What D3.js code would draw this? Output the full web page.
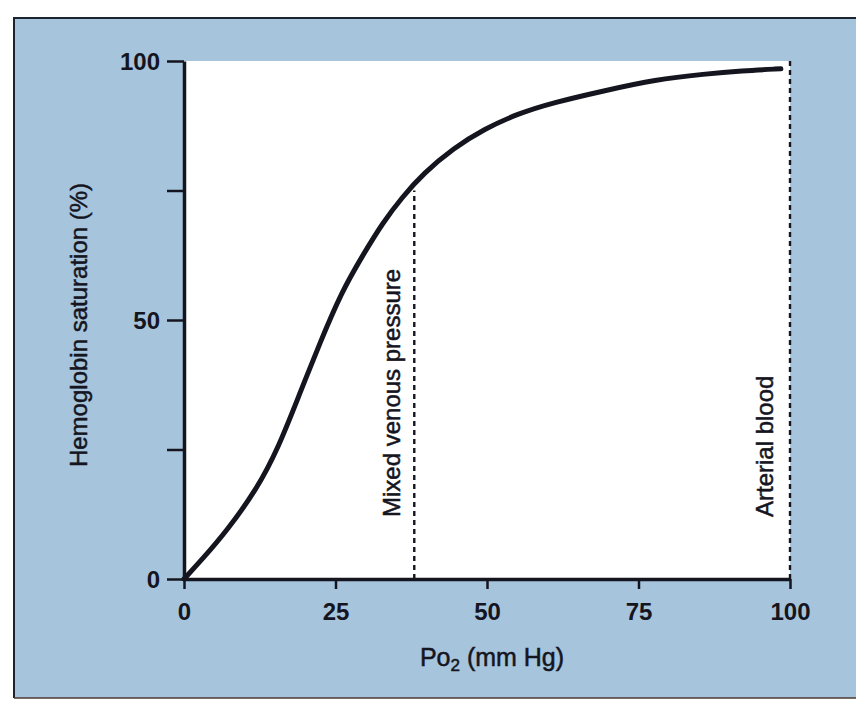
<!DOCTYPE html>
<html>
<head>
<meta charset="utf-8">
<script src="https://cdn.jsdelivr.net/npm/d3@7"></script>
<style>
  html, body { margin: 0; padding: 0; background: #ffffff; }
  svg { display: block; }
  text { font-family: "Liberation Sans", Arial, Helvetica, sans-serif; fill: #15151f; }
</style>
</head>
<body>
<svg id="chart" width="856" height="702"></svg>
<script>
// ---- data ----
const po2 = [0, 3, 7, 12, 15.6, 19, 22.5, 26, 29.4, 32.8, 36, 39.5, 44.5, 49.6, 55, 61, 69.5, 77.7, 86, 92, 98.5];
const saturation = [0, 3.8, 9.2, 17.3, 25.4, 35.5, 45.8, 55.4, 62.3, 68.8, 73.7, 78.3, 83.2, 86.9, 89.8, 92.0, 94.3, 96.4, 97.5, 98.1, 98.5];

const xTicks = [0, 25, 50, 75, 100];
const xTickLabels = ["0", "25", "50", "75", "100"];
const yTicks = [0, 25, 50, 75, 100];
const yTickLabels = ["0", "", "50", "", "100"];

const markerNames = ["Mixed venous pressure", "Arterial blood"];
const markerPo2 = [38, 100];
const markerTop = [75, 100];

const xTitle = "Po";
const xTitleSub = "2";
const xTitleRest = " (mm Hg)";
const yTitle = "Hemoglobin saturation (%)";

// ---- layout ----
const svg = d3.select("#chart");
const ink = "#15151f";

// blue panel
svg.append("rect")
  .attr("x", 14).attr("y", 18)
  .attr("width", 856 - 14 + 10).attr("height", 698 - 18)
  .attr("fill", "#a6c4dc");
svg.append("path")
  .attr("d", "M14,698 L14,18 L860,18")
  .attr("fill", "none").attr("stroke", "#1b2430").attr("stroke-width", 2);
svg.append("line")
  .attr("x1", 14).attr("x2", 856).attr("y1", 698).attr("y2", 698)
  .attr("stroke", "#4a3a30").attr("stroke-width", 1.5);

const x = d3.scaleLinear().domain([0, 100]).range([184, 790]);
const y = d3.scaleLinear().domain([0, 100]).range([579, 61]);

// white plot area
svg.append("rect")
  .attr("x", x(0)).attr("y", y(100))
  .attr("width", x(100) - x(0)).attr("height", y(0) - y(100))
  .attr("fill", "#ffffff");

// marker dashed lines
markerPo2.forEach((p, i) => {
  svg.append("line")
    .attr("x1", x(p)).attr("x2", x(p))
    .attr("y1", y(0)).attr("y2", y(markerTop[i]))
    .attr("stroke", ink).attr("stroke-width", 2.4)
    .attr("stroke-dasharray", "5,4");
});

// marker labels (rotated)
const labelOffset = [14, 17];
markerNames.forEach((name, i) => {
  const lx = x(markerPo2[i]) - labelOffset[i];
  const ly = 517;
  svg.append("text")
    .attr("transform", `translate(${lx},${ly}) rotate(-90)`)
    .attr("text-anchor", "start")
    .attr("font-size", 24)
    .attr("stroke", ink).attr("stroke-width", 0.5)
    .text(name);
});

// curve
const line = d3.line()
  .x((d, i) => x(po2[i]))
  .y((d, i) => y(saturation[i]))
  .curve(d3.curveBasis);
svg.append("path")
  .datum(po2)
  .attr("d", line)
  .attr("fill", "none")
  .attr("stroke", ink)
  .attr("stroke-width", 5)
  .attr("stroke-linecap", "round");

// axes
const xAxis = d3.axisBottom(x)
  .tickValues(xTicks)
  .tickFormat((d, i) => xTickLabels[i])
  .tickSizeInner(10).tickSizeOuter(0).tickPadding(14);
const yAxis = d3.axisLeft(y)
  .tickValues(yTicks)
  .tickFormat((d, i) => yTickLabels[i])
  .tickSizeInner(17).tickSizeOuter(0).tickPadding(7);

const gx = svg.append("g").attr("transform", `translate(0,${y(0)})`).call(xAxis);
const gy = svg.append("g").attr("transform", `translate(${x(0)},0)`).call(yAxis);

[gx, gy].forEach(g => {
  g.select(".domain").attr("stroke", ink).attr("stroke-width", 3.5);
  g.selectAll(".tick line").attr("stroke", ink).attr("stroke-width", 2.5);
  g.selectAll(".tick text")
    .attr("fill", ink)
    .attr("font-family", "'Liberation Sans', Arial, sans-serif")
    .attr("font-weight", "bold")
    .attr("font-size", 24);
});
gy.selectAll(".tick text").attr("dy", "0.36em");

// axis titles
const xt = svg.append("text")
  .attr("x", 492).attr("y", 666)
  .attr("text-anchor", "middle")
  .attr("font-size", 25)
  .attr("stroke", ink).attr("stroke-width", 0.5);
xt.append("tspan").text(xTitle);
xt.append("tspan").attr("font-size", 17).attr("dy", 5).text(xTitleSub);
xt.append("tspan").attr("dy", -5).text(xTitleRest);

svg.append("text")
  .attr("transform", `translate(87,${(y(0) + y(100)) / 2 + 5}) rotate(-90)`)
  .attr("text-anchor", "middle")
  .attr("font-size", 24)
  .attr("stroke", ink).attr("stroke-width", 0.5)
  .text(yTitle);
</script>
</body>
</html>
